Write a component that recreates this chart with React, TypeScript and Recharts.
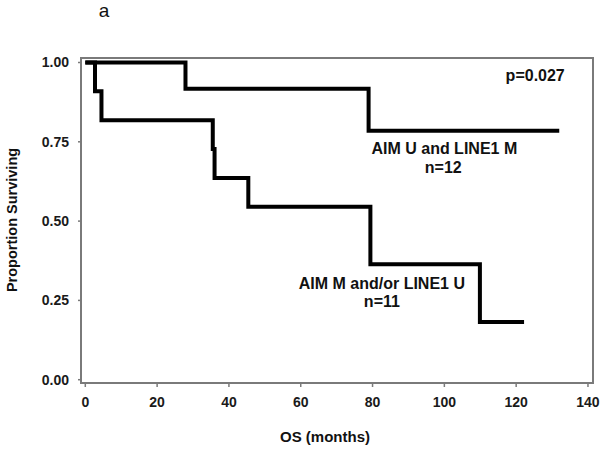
import React from "react";
import { LineChart, Line, XAxis, YAxis, ReferenceDot } from "recharts";

// Kaplan-Meier steps
const timeA = [0, 27.9, 78.9, 132];
const survA = [1, 0.917, 0.785, 0.785];
const timeB = [0, 2.7, 4.5, 35.5, 36, 45.4, 79.4, 109.9, 122.2];
const survB = [1, 0.909, 0.818, 0.727, 0.636, 0.545, 0.364, 0.182, 0.182];

const xTicks = [0, 20, 40, 60, 80, 100, 120, 140];
const yTicks = [0, 0.25, 0.5, 0.75, 1];

const dataA = timeA.map((t, i) => ({ t, s: survA[i] }));
const dataB = timeB.map((t, i) => ({ t, s: survB[i] }));

const X_DOMAIN: [number, number] = [-1.2, 141.4];
const Y_DOMAIN: [number, number] = [-0.0104, 1.0142];

const W = 600;
const H = 449;
const M = { top: 58, right: 7, bottom: 0, left: 1 };
const Y_W = 80;
const X_H = 66;

const FONT = "'Liberation Sans', Arial, sans-serif";
const AXIS = "#7a7a7a";
const tickStyle = { fill: "#1a1a1a", fontSize: 14, fontWeight: 700, fontFamily: FONT };

const noteStyle = { fill: "#111", fontSize: 16, fontWeight: 700, fontFamily: FONT };

function note(x: number, y: number, text: string) {
  return (
    <ReferenceDot
      key={text}
      x={x}
      y={y}
      r={0}
      fill="none"
      stroke="none"
      ifOverflow="visible"
      label={{ value: text, position: "center", ...noteStyle }}
    />
  );
}

export default function App() {
  const left = M.left + Y_W;
  const right = W - M.right;
  const top = M.top;
  const bottom = H - M.bottom - X_H;
  return (
    <div style={{ position: "absolute", left: 0, top: 0, width: W, height: H, background: "#fff" }}>
      <LineChart width={W} height={H} margin={M}>
        <XAxis
          type="number"
          dataKey="t"
          domain={X_DOMAIN}
          ticks={xTicks}
          allowDataOverflow
          tick={tickStyle}
          tickSize={4}
          tickMargin={10}
          axisLine={{ stroke: AXIS, strokeWidth: 2 }}
          tickLine={{ stroke: AXIS, strokeWidth: 1.5 }}
          height={X_H}
        />
        <YAxis
          type="number"
          domain={Y_DOMAIN}
          ticks={yTicks}
          allowDataOverflow
          tickFormatter={(v: number) => v.toFixed(2)}
          tick={tickStyle}
          tickSize={3}
          tickMargin={9}
          axisLine={{ stroke: AXIS, strokeWidth: 2 }}
          tickLine={{ stroke: AXIS, strokeWidth: 1.5 }}
          width={Y_W}
        />
        <Line
          data={dataA}
          dataKey="s"
          type="stepAfter"
          stroke="#000"
          strokeWidth={4}
          dot={false}
          isAnimationActive={false}
        />
        <Line
          data={dataB}
          dataKey="s"
          type="stepAfter"
          stroke="#000"
          strokeWidth={4}
          dot={false}
          isAnimationActive={false}
        />
        {note(125.3, 0.961, "p=0.027")}
        {note(100, 0.731, "AIM U and LINE1 M")}
        {note(99.7, 0.668, "n=12")}
        {note(82.6, 0.305, "AIM M and/or LINE1 U")}
        {note(82.6, 0.246, "n=11")}
      </LineChart>
      <svg width={W} height={H} style={{ position: "absolute", left: 0, top: 0, pointerEvents: "none" }}>
        {/* plot frame */}
        <rect
          x={left}
          y={top}
          width={right - left}
          height={bottom - top}
          fill="none"
          stroke={AXIS}
          strokeWidth={2}
        />
        <text x={104} y={17} textAnchor="middle" fontFamily={FONT} fontSize={19} fill="#111">a</text>
        <text
          x={0}
          y={0}
          transform="translate(17,220) rotate(-90)"
          textAnchor="middle"
          fontFamily={FONT}
          fontSize={14.5}
          fontWeight={700}
          fill="#111"
        >
          Proportion Surviving
        </text>
        <text x={325} y={442} textAnchor="middle" fontFamily={FONT} fontSize={15} fontWeight={700} fill="#111">
          OS (months)
        </text>
      </svg>
    </div>
  );
}
